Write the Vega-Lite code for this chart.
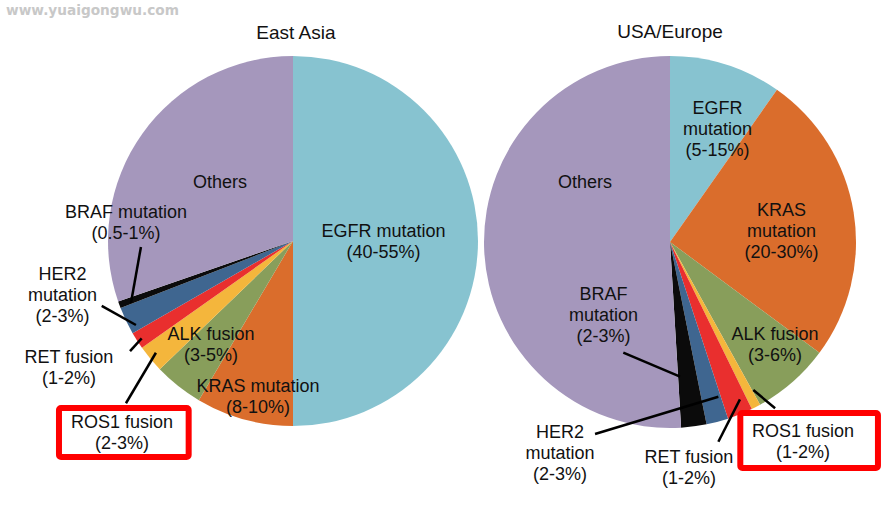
{
  "$schema": "https://vega.github.io/schema/vega-lite/v6.json",
  "padding": 0,
  "spacing": 0,
  "bounds": "flush",
  "background": "white",
  "config": {
    "view": {"stroke": null},
    "axis": {"disable": true},
    "text": {"font": "Liberation Sans", "fontSize": 18, "lineHeight": 21, "align": "center", "baseline": "middle", "fill": "#111111", "lineBreak": "\n"}
  },
  "datasets": {
    "slices": [
      {"region": "East Asia", "ord": 1, "type": "EGFR", "pct": 50},
      {"region": "East Asia", "ord": 2, "type": "KRAS", "pct": 8.5},
      {"region": "East Asia", "ord": 3, "type": "ALK", "pct": 4.3},
      {"region": "East Asia", "ord": 4, "type": "ROS1", "pct": 2.4},
      {"region": "East Asia", "ord": 5, "type": "RET", "pct": 1.5},
      {"region": "East Asia", "ord": 6, "type": "HER2", "pct": 2.4},
      {"region": "East Asia", "ord": 7, "type": "BRAF", "pct": 0.6},
      {"region": "East Asia", "ord": 8, "type": "Others", "pct": 30.3},
      {"region": "USA/Europe", "ord": 1, "type": "EGFR", "pct": 9.75},
      {"region": "USA/Europe", "ord": 2, "type": "KRAS", "pct": 25.4},
      {"region": "USA/Europe", "ord": 3, "type": "ALK", "pct": 6.8},
      {"region": "USA/Europe", "ord": 4, "type": "ROS1", "pct": 0.8},
      {"region": "USA/Europe", "ord": 5, "type": "RET", "pct": 2.2},
      {"region": "USA/Europe", "ord": 6, "type": "HER2", "pct": 1.9},
      {"region": "USA/Europe", "ord": 7, "type": "BRAF", "pct": 2.2},
      {"region": "USA/Europe", "ord": 8, "type": "Others", "pct": 50.95}
    ],
    "labels": [
      {"region": "East Asia", "kind": "title", "label": "East Asia", "lx": 0.016, "ly": 1.124},
      {"region": "East Asia", "kind": "label", "label": "EGFR mutation\n(40-55%)", "lx": 0.489, "ly": 0.049},
      {"region": "East Asia", "kind": "label", "label": "Others", "lx": -0.395, "ly": 0.315},
      {"region": "East Asia", "kind": "label", "label": "BRAF mutation\n(0.5-1%)", "lx": -0.903, "ly": 0.15},
      {"region": "East Asia", "kind": "label", "label": "HER2\nmutation\n(2-3%)", "lx": -1.246, "ly": -0.184},
      {"region": "East Asia", "kind": "label", "label": "RET fusion\n(1-2%)", "lx": -1.211, "ly": -0.632},
      {"region": "East Asia", "kind": "label", "label": "ALK fusion\n(3-5%)", "lx": -0.443, "ly": -0.508},
      {"region": "East Asia", "kind": "label", "label": "KRAS mutation\n(8-10%)", "lx": -0.189, "ly": -0.789},
      {"region": "East Asia", "kind": "label", "label": "ROS1 fusion\n(2-3%)", "lx": -0.924, "ly": -0.984},
      {"region": "USA/Europe", "kind": "title", "label": "USA/Europe", "lx": 0.0, "ly": 1.129},
      {"region": "USA/Europe", "kind": "label", "label": "Others", "lx": -0.457, "ly": 0.319},
      {"region": "USA/Europe", "kind": "label", "label": "EGFR\nmutation\n(5-15%)", "lx": 0.255, "ly": 0.715},
      {"region": "USA/Europe", "kind": "label", "label": "KRAS\nmutation\n(20-30%)", "lx": 0.599, "ly": 0.168},
      {"region": "USA/Europe", "kind": "label", "label": "BRAF\nmutation\n(2-3%)", "lx": -0.358, "ly": -0.285},
      {"region": "USA/Europe", "kind": "label", "label": "ALK fusion\n(3-6%)", "lx": 0.565, "ly": -0.5},
      {"region": "USA/Europe", "kind": "label", "label": "HER2\nmutation\n(2-3%)", "lx": -0.591, "ly": -1.025},
      {"region": "USA/Europe", "kind": "label", "label": "RET fusion\n(1-2%)", "lx": 0.102, "ly": -1.163},
      {"region": "USA/Europe", "kind": "label", "label": "ROS1 fusion\n(1-2%)", "lx": 0.715, "ly": -1.02}
    ],
    "leaders": [
      {"region": "East Asia", "x1": -0.822, "y1": -0.032, "x2": -0.876, "y2": -0.335},
      {"region": "East Asia", "x1": -1.034, "y1": -0.351, "x2": -0.849, "y2": -0.454},
      {"region": "East Asia", "x1": -0.881, "y1": -0.595, "x2": -0.818, "y2": -0.526},
      {"region": "East Asia", "x1": -0.903, "y1": -0.877, "x2": -0.741, "y2": -0.604},
      {"region": "USA/Europe", "x1": -0.251, "y1": -0.595, "x2": 0.054, "y2": -0.724},
      {"region": "USA/Europe", "x1": -0.403, "y1": -1.032, "x2": 0.26, "y2": -0.832},
      {"region": "USA/Europe", "x1": 0.26, "y1": -1.074, "x2": 0.376, "y2": -0.846},
      {"region": "USA/Europe", "x1": 0.448, "y1": -0.796, "x2": 0.565, "y2": -0.894}
    ],
    "boxes": [
      {"region": "East Asia", "x1": -1.265, "x2": -0.564, "y1": -0.903, "y2": -1.168},
      {"region": "USA/Europe", "x1": 0.378, "x2": 1.118, "y1": -0.919, "y2": -1.215}
    ]
  },
  "hconcat": [
    {
      "width": 480,
      "height": 518,
      "layer": [
        {
          "data": {"name": "slices"},
          "transform": [{"filter": "datum.region === 'East Asia'"}],
          "mark": {"type": "arc", "outerRadius": 185},
          "encoding": {
            "theta": {"field": "pct", "type": "quantitative", "stack": true},
            "order": {"field": "ord", "type": "quantitative"},
            "color": {"field": "type", "type": "nominal", "legend": null,
              "scale": {"domain": ["EGFR", "KRAS", "ALK", "ROS1", "RET", "HER2", "BRAF", "Others"],
                        "range": ["#87C3D0", "#DA6D2C", "#889E5B", "#F4B63C", "#E92F2E", "#3F6690", "#0B0B0B", "#A597BC"]}},
            "x": {"datum": 0, "type": "quantitative", "axis": null, "scale": {"domain": [-1.5838, 1.0108], "nice": false, "zero": false}},
            "y": {"datum": 0, "type": "quantitative", "axis": null, "scale": {"domain": [-1.4973, 1.3027], "nice": false, "zero": false}}
          }
        },
        {
          "data": {"name": "leaders"},
          "transform": [{"filter": "datum.region === 'East Asia'"}],
          "mark": {"type": "rule", "strokeWidth": 2.5, "color": "#000000"},
          "encoding": {
            "x": {"field": "x1", "type": "quantitative", "axis": null},
            "y": {"field": "y1", "type": "quantitative", "axis": null},
            "x2": {"field": "x2"},
            "y2": {"field": "y2"}
          }
        },
        {
          "data": {"name": "boxes"},
          "transform": [{"filter": "datum.region === 'East Asia'"}],
          "mark": {"type": "rect", "fill": null, "fillOpacity": 0, "stroke": "#FF0000", "strokeWidth": 6, "cornerRadius": 2},
          "encoding": {
            "x": {"field": "x1", "type": "quantitative", "axis": null},
            "y": {"field": "y1", "type": "quantitative", "axis": null},
            "x2": {"field": "x2"},
            "y2": {"field": "y2"}
          }
        },
        {
          "data": {"name": "labels"},
          "transform": [{"filter": "datum.region === 'East Asia'"}],
          "mark": {"type": "text"},
          "encoding": {
            "x": {"field": "lx", "type": "quantitative", "axis": null},
            "y": {"field": "ly", "type": "quantitative", "axis": null},
            "text": {"field": "label"},
            "size": {"condition": {"test": "datum.kind === 'title'", "value": 19}, "value": 18}
          }
        },
        {
          "data": {"values": [{"mark": "www.yuaigongwu.com", "lx": -1.551, "ly": 1.243}]},
          "mark": {"type": "text", "align": "left", "fontWeight": "bold", "fontSize": 13.7, "fill": "#C8C8C8", "font": "DejaVu Sans"},
          "encoding": {
            "x": {"field": "lx", "type": "quantitative", "axis": null},
            "y": {"field": "ly", "type": "quantitative", "axis": null},
            "text": {"field": "mark"}
          }
        }
      ]
    },
    {
      "width": 401,
      "height": 518,
      "layer": [
        {
          "data": {"name": "slices"},
          "transform": [{"filter": "datum.region === 'USA/Europe'"}],
          "mark": {"type": "arc", "outerRadius": 186},
          "encoding": {
            "theta": {"field": "pct", "type": "quantitative", "stack": true},
            "order": {"field": "ord", "type": "quantitative"},
            "color": {"field": "type", "type": "nominal", "legend": null,
              "scale": {"domain": ["EGFR", "KRAS", "ALK", "ROS1", "RET", "HER2", "BRAF", "Others"],
                        "range": ["#87C3D0", "#DA6D2C", "#889E5B", "#F4B63C", "#E92F2E", "#3F6690", "#0B0B0B", "#A597BC"]}},
            "x": {"datum": 0, "type": "quantitative", "axis": null, "scale": {"domain": [-1.0215, 1.1344], "nice": false, "zero": false}},
            "y": {"datum": 0, "type": "quantitative", "axis": null, "scale": {"domain": [-1.4839, 1.3011], "nice": false, "zero": false}}
          }
        },
        {
          "data": {"name": "leaders"},
          "transform": [{"filter": "datum.region === 'USA/Europe'"}],
          "mark": {"type": "rule", "strokeWidth": 2.5, "color": "#000000"},
          "encoding": {
            "x": {"field": "x1", "type": "quantitative", "axis": null},
            "y": {"field": "y1", "type": "quantitative", "axis": null},
            "x2": {"field": "x2"},
            "y2": {"field": "y2"}
          }
        },
        {
          "data": {"name": "boxes"},
          "transform": [{"filter": "datum.region === 'USA/Europe'"}],
          "mark": {"type": "rect", "fill": null, "fillOpacity": 0, "stroke": "#FF0000", "strokeWidth": 6, "cornerRadius": 2},
          "encoding": {
            "x": {"field": "x1", "type": "quantitative", "axis": null},
            "y": {"field": "y1", "type": "quantitative", "axis": null},
            "x2": {"field": "x2"},
            "y2": {"field": "y2"}
          }
        },
        {
          "data": {"name": "labels"},
          "transform": [{"filter": "datum.region === 'USA/Europe'"}],
          "mark": {"type": "text"},
          "encoding": {
            "x": {"field": "lx", "type": "quantitative", "axis": null},
            "y": {"field": "ly", "type": "quantitative", "axis": null},
            "text": {"field": "label"},
            "size": {"condition": {"test": "datum.kind === 'title'", "value": 19}, "value": 18}
          }
        }
      ]
    }
  ]
}
